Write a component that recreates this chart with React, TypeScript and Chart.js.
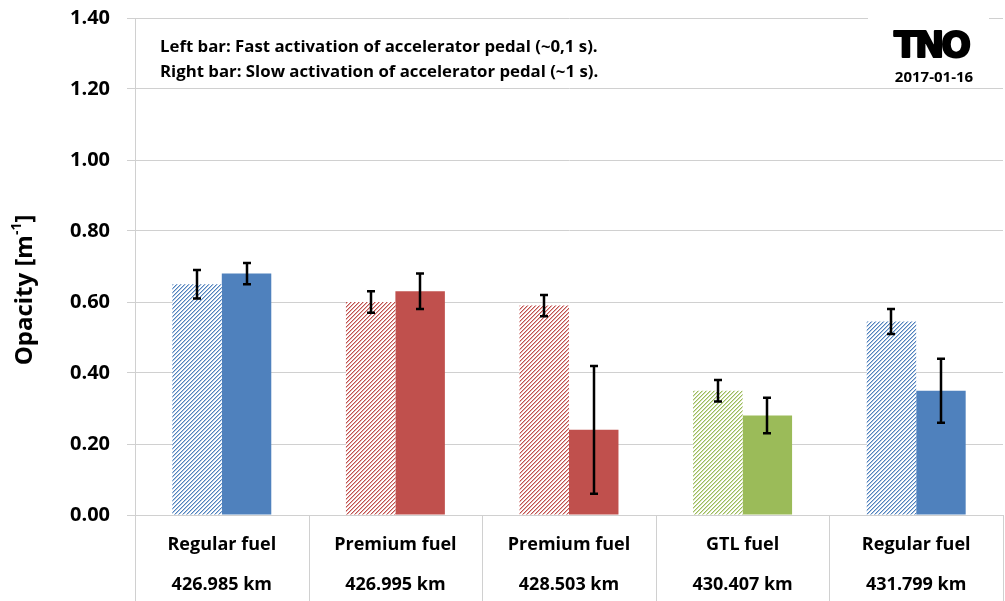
import React, { useEffect, useRef } from "react";
import { Chart, registerables } from "chart.js";

Chart.register(...registerables);

const categories: string[][] = [
  ["Regular fuel", "426.985 km"],
  ["Premium fuel", "426.995 km"],
  ["Premium fuel", "428.503 km"],
  ["GTL fuel", "430.407 km"],
  ["Regular fuel", "431.799 km"],
];
const fastValues = [0.65, 0.6, 0.59, 0.35, 0.545];
const fastErrLow = [0.61, 0.57, 0.56, 0.32, 0.51];
const fastErrHigh = [0.69, 0.63, 0.62, 0.38, 0.58];
const slowValues = [0.68, 0.63, 0.24, 0.28, 0.35];
const slowErrLow = [0.65, 0.58, 0.06, 0.23, 0.26];
const slowErrHigh = [0.71, 0.68, 0.42, 0.33, 0.44];
const yTicks = [0, 0.2, 0.4, 0.6, 0.8, 1.0, 1.2, 1.4];
const noteLines = [
  "Left bar: Fast activation of accelerator pedal (~0,1 s).",
  "Right bar: Slow activation of accelerator pedal (~1 s).",
];
const logoText = "TNO";
const dateText = "2017-01-16";
const yTitleMain = "Opacity [m";
const yTitleSup = "-1";
const yTitleEnd = "]";

const BLUE = "#4F81BD";
const RED = "#C0504D";
const GREEN = "#9BBB59";
const barColors = [BLUE, RED, RED, GREEN, BLUE];
const GRID = "#D0D0D0";
const FONT = "'Open Sans', 'DejaVu Sans', sans-serif";

function makeHatch(color: string): CanvasPattern | string {
  const c = document.createElement("canvas");
  c.width = 4;
  c.height = 4;
  const g = c.getContext("2d");
  if (!g) return color;
  g.fillStyle = "#ffffff";
  g.fillRect(0, 0, 4, 4);
  for (let x = 0; x < 4; x++) {
    for (let y = 0; y < 4; y++) {
      const m = (x + y) % 4;
      if (m === 0) {
        g.globalAlpha = 1;
        g.fillStyle = color;
        g.fillRect(x, y, 1, 1);
      } else if (m === 1) {
        g.globalAlpha = 0.45;
        g.fillStyle = color;
        g.fillRect(x, y, 1, 1);
      }
    }
  }
  g.globalAlpha = 1;
  const p = g.createPattern(c, "repeat");
  return p || color;
}

export default function App() {
  const ref = useRef<HTMLCanvasElement>(null);

  useEffect(() => {
    if (!ref.current) return;
    const hatchColors = barColors.map((c) => makeHatch(c));
    const errLows = [fastErrLow, slowErrLow];
    const errHighs = [fastErrHigh, slowErrHigh];

    const decor = {
      id: "decor",
      afterDatasetsDraw(chart: any) {
        const ctx = chart.ctx;
        const ys = chart.scales.y;
        ctx.save();
        ctx.strokeStyle = "#000";
        ctx.lineWidth = 2.5;
        for (let d = 0; d < 2; d++) {
          const meta = chart.getDatasetMeta(d);
          meta.data.forEach((el: any, j: number) => {
            const x = Math.round(el.x);
            const yH = ys.getPixelForValue(errHighs[d][j]);
            const yL = ys.getPixelForValue(errLows[d][j]);
            ctx.beginPath();
            ctx.moveTo(x, yH);
            ctx.lineTo(x, yL);
            ctx.moveTo(x - 4, yH);
            ctx.lineTo(x + 4, yH);
            ctx.moveTo(x - 4, yL);
            ctx.lineTo(x + 4, yL);
            ctx.stroke();
          });
        }
        ctx.restore();
      },
      afterDraw(chart: any) {
        const ctx = chart.ctx;
        const xs = chart.scales.x;
        const area = chart.chartArea;
        const H = chart.height;
        ctx.save();
        ctx.strokeStyle = GRID;
        ctx.lineWidth = 1;
        for (let i = 0; i <= categories.length; i++) {
          const x = Math.round(xs.getPixelForValue(i - 0.5)) + 0.5;
          ctx.beginPath();
          ctx.moveTo(x, area.bottom);
          ctx.lineTo(x, H);
          ctx.stroke();
        }
        ctx.fillStyle = "#000";
        ctx.font = `bold 16.8px ${FONT}`;
        ctx.textAlign = "left";
        ctx.textBaseline = "middle";
        ctx.fillText(noteLines[0], 160, 47);
        ctx.fillText(noteLines[1], 160, 72);
        ctx.fillStyle = "#fff";
        ctx.fillRect(868, 8, 121, 77);
        ctx.fillStyle = "#000";
        ctx.strokeStyle = "#000";
        ctx.font = `bold 35px 'DejaVu Sans', sans-serif`;
        ctx.textAlign = "center";
        ctx.textBaseline = "alphabetic";
        try {
          (ctx as any).letterSpacing = "-3px";
        } catch (e) {}
        ctx.lineWidth = 2;
        ctx.lineJoin = "round";
        ctx.fillText(logoText, 931, 57);
        ctx.strokeText(logoText, 931, 57);
        try {
          (ctx as any).letterSpacing = "0px";
        } catch (e) {}
        ctx.font = `bold 15px ${FONT}`;
        ctx.textBaseline = "middle";
        ctx.fillText(dateText, 934, 78);
        ctx.translate(25, 290);
        ctx.rotate(-Math.PI / 2);
        const mainFont = `bold 24px ${FONT}`;
        const supFont = `bold 14px ${FONT}`;
        ctx.font = mainFont;
        const w1 = ctx.measureText(yTitleMain).width;
        const w3 = ctx.measureText(yTitleEnd).width;
        ctx.font = supFont;
        const w2 = ctx.measureText(yTitleSup).width;
        const total = w1 + w2 + w3;
        let x0 = -total / 2;
        ctx.textAlign = "left";
        ctx.textBaseline = "middle";
        ctx.font = mainFont;
        ctx.fillText(yTitleMain, x0, 0);
        x0 += w1;
        ctx.font = supFont;
        ctx.fillText(yTitleSup, x0, -8);
        x0 += w2;
        ctx.font = mainFont;
        ctx.fillText(yTitleEnd, x0, 0);
        ctx.restore();
      },
    };

    const chart = new Chart(ref.current, {
      type: "bar",
      data: {
        labels: categories,
        datasets: [
          {
            label: "Fast",
            data: fastValues,
            backgroundColor: hatchColors as any,
            borderWidth: 0,
            categoryPercentage: 0.57,
            barPercentage: 1.0,
          },
          {
            label: "Slow",
            data: slowValues,
            backgroundColor: barColors,
            borderWidth: 0,
            categoryPercentage: 0.57,
            barPercentage: 1.0,
          },
        ],
      },
      options: {
        responsive: false,
        animation: false,
        layout: { padding: { top: 18, right: 2, left: 0, bottom: 0 } },
        plugins: {
          legend: { display: false },
          tooltip: { enabled: false },
          title: { display: false },
        },
        scales: {
          x: {
            grid: { display: false, drawTicks: false },
            border: { display: false },
            ticks: {
              color: "#000",
              font: { family: FONT, size: 18, weight: "bold", lineHeight: "40px" },
              padding: 10,
              maxRotation: 0,
              autoSkip: false,
            },
            afterFit: (s: any) => {
              s.height = 86;
              s.paddingTop = 0;
              s.paddingBottom = 0;
            },
          },
          y: {
            min: 0,
            max: 1.4,
            afterBuildTicks: (s: any) => {
              s.ticks = yTicks.map((v) => ({ value: v }));
            },
            grid: { color: GRID, lineWidth: 1, drawTicks: true, tickLength: 8, tickColor: GRID },
            border: { display: true, color: GRID, width: 1 },
            ticks: {
              color: "#000",
              font: { family: FONT, size: 20, weight: "bold" },
              padding: 17,
              callback: (v: any) => Number(v).toFixed(2),
            },
            afterFit: (s: any) => {
              s.width = 135;
              s.paddingTop = 0;
              s.paddingBottom = 0;
            },
          },
        },
      },
      plugins: [decor],
    });
    return () => chart.destroy();
  }, []);

  return (
    <div style={{ position: "absolute", left: 0, top: 0, width: 1005, height: 601, background: "#fff" }}>
      <canvas ref={ref} width={1005} height={601} style={{ display: "block" }} />
    </div>
  );
}
